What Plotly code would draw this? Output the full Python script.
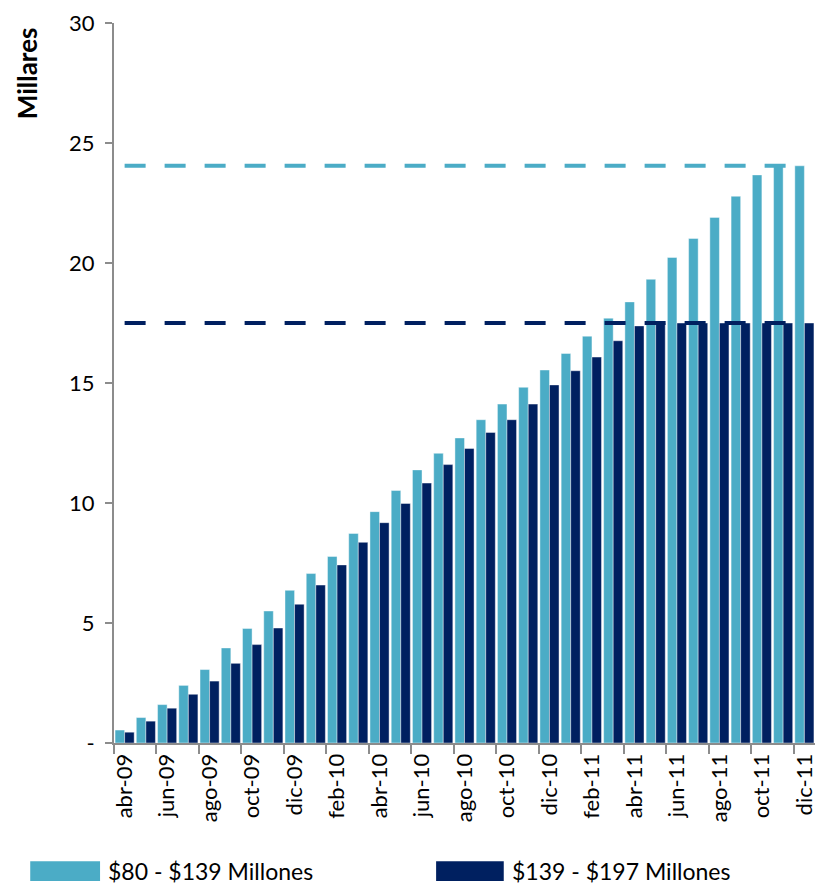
import plotly.graph_objects as go

meses = [
    "abr-09", "may-09", "jun-09", "jul-09", "ago-09", "sep-09", "oct-09", "nov-09", "dic-09",
    "ene-10", "feb-10", "mar-10", "abr-10", "may-10", "jun-10", "jul-10", "ago-10", "sep-10",
    "oct-10", "nov-10", "dic-10", "ene-11", "feb-11", "mar-11", "abr-11", "may-11", "jun-11",
    "jul-11", "ago-11", "sep-11", "oct-11", "nov-11", "dic-11",
]
serie_80_139 = [
    0.54, 1.06, 1.60, 2.40, 3.06, 3.96, 4.77, 5.50, 6.36, 7.06, 7.77, 8.73, 9.64,
    10.52, 11.38, 12.07, 12.71, 13.47, 14.12, 14.82, 15.54, 16.23, 16.95, 17.70,
    18.38, 19.32, 20.23, 21.02, 21.90, 22.78, 23.67, 24.10, 24.05,
]
serie_139_197 = [
    0.45, 0.91, 1.45, 2.03, 2.58, 3.32, 4.10, 4.79, 5.78, 6.58, 7.42, 8.36, 9.18,
    9.98, 10.83, 11.60, 12.27, 12.94, 13.47, 14.12, 14.92, 15.51, 16.08, 16.76,
    17.38, 17.50, 17.50, 17.50, 17.50, 17.50, 17.50, 17.50, 17.50,
]
tope_80_139 = 24.05
tope_139_197 = 17.5
nombres = ["$80 - $139 Millones", "$139 - $197 Millones"]

CLARO = "#4BACC6"
OSCURO = "#002060"
FONT = "Lato"

fig = go.Figure()
for nombre, valores, color in zip(nombres, [serie_80_139, serie_139_197], [CLARO, OSCURO]):
    fig.add_trace(go.Bar(x=meses, y=valores, name=nombre, marker_color=color,
                         marker_line=dict(width=0.6, color="rgba(255,255,255,0.7)"),
                         showlegend=False))

for tope, color in [(tope_80_139, CLARO), (tope_139_197, OSCURO)]:
    fig.add_trace(go.Scatter(x=meses, y=[tope] * len(meses), mode="lines",
                             line=dict(color=color, width=4, dash="21px,19px"),
                             showlegend=False, hoverinfo="skip"))

# la pagina tiene 8px de margen en body, por eso la figura se desplaza 8px
fig.update_layout(
    width=810, height=879,
    margin=dict(l=106, r=1, t=10, b=144),
    plot_bgcolor="white", paper_bgcolor="white",
    barmode="group", bargap=0.1, bargroupgap=0,
    font=dict(family=FONT, size=22, color="#000000"),
)
fig.update_xaxes(
    type="category", range=[-0.5, 32.5],
    tickmode="linear", tick0=0, dtick=2, tickson="boundaries",
    tickangle=-90, ticks="outside", ticklen=9, tickwidth=2, tickcolor="#8c8c8c",
    showline=True, linecolor="#8c8c8c", linewidth=2, showgrid=False,
    tickfont=dict(size=22), ticklabeloverflow="allow",
)
fig.update_yaxes(
    range=[0, 30], tickvals=[0, 5, 10, 15, 20, 25, 30],
    ticktext=["-", "5", "10", "15", "20", "25", "30"],
    ticks="outside", ticklen=7, tickwidth=2, tickcolor="#8c8c8c",
    showline=True, linecolor="#8c8c8c", linewidth=2, showgrid=False, zeroline=False,
    ticklabelstandoff=6, tickfont=dict(size=22), ticklabeloverflow="allow",
)

fig.add_annotation(text="<b>Millares</b>", textangle=-90, xref="paper", yref="paper",
                   x=-0.124, y=0.997, xanchor="center", yanchor="top",
                   showarrow=False, font=dict(size=26))

# leyenda manual con muestras anchas
for nombre, color, x0, x1 in [(nombres[0], CLARO, -0.1195, -0.0199),
                              (nombres[1], OSCURO, 0.4595, 0.556)]:
    fig.add_shape(type="rect", xref="paper", yref="paper", x0=x0, x1=x1,
                  y0=-0.1917, y1=-0.1641, fillcolor=color, line_width=0)
    fig.add_annotation(text=nombre, xref="paper", yref="paper", x=x1 + 0.009, y=-0.178,
                       xanchor="left", yanchor="middle", showarrow=False,
                       font=dict(size=23))

fig.write_html("out.html")
